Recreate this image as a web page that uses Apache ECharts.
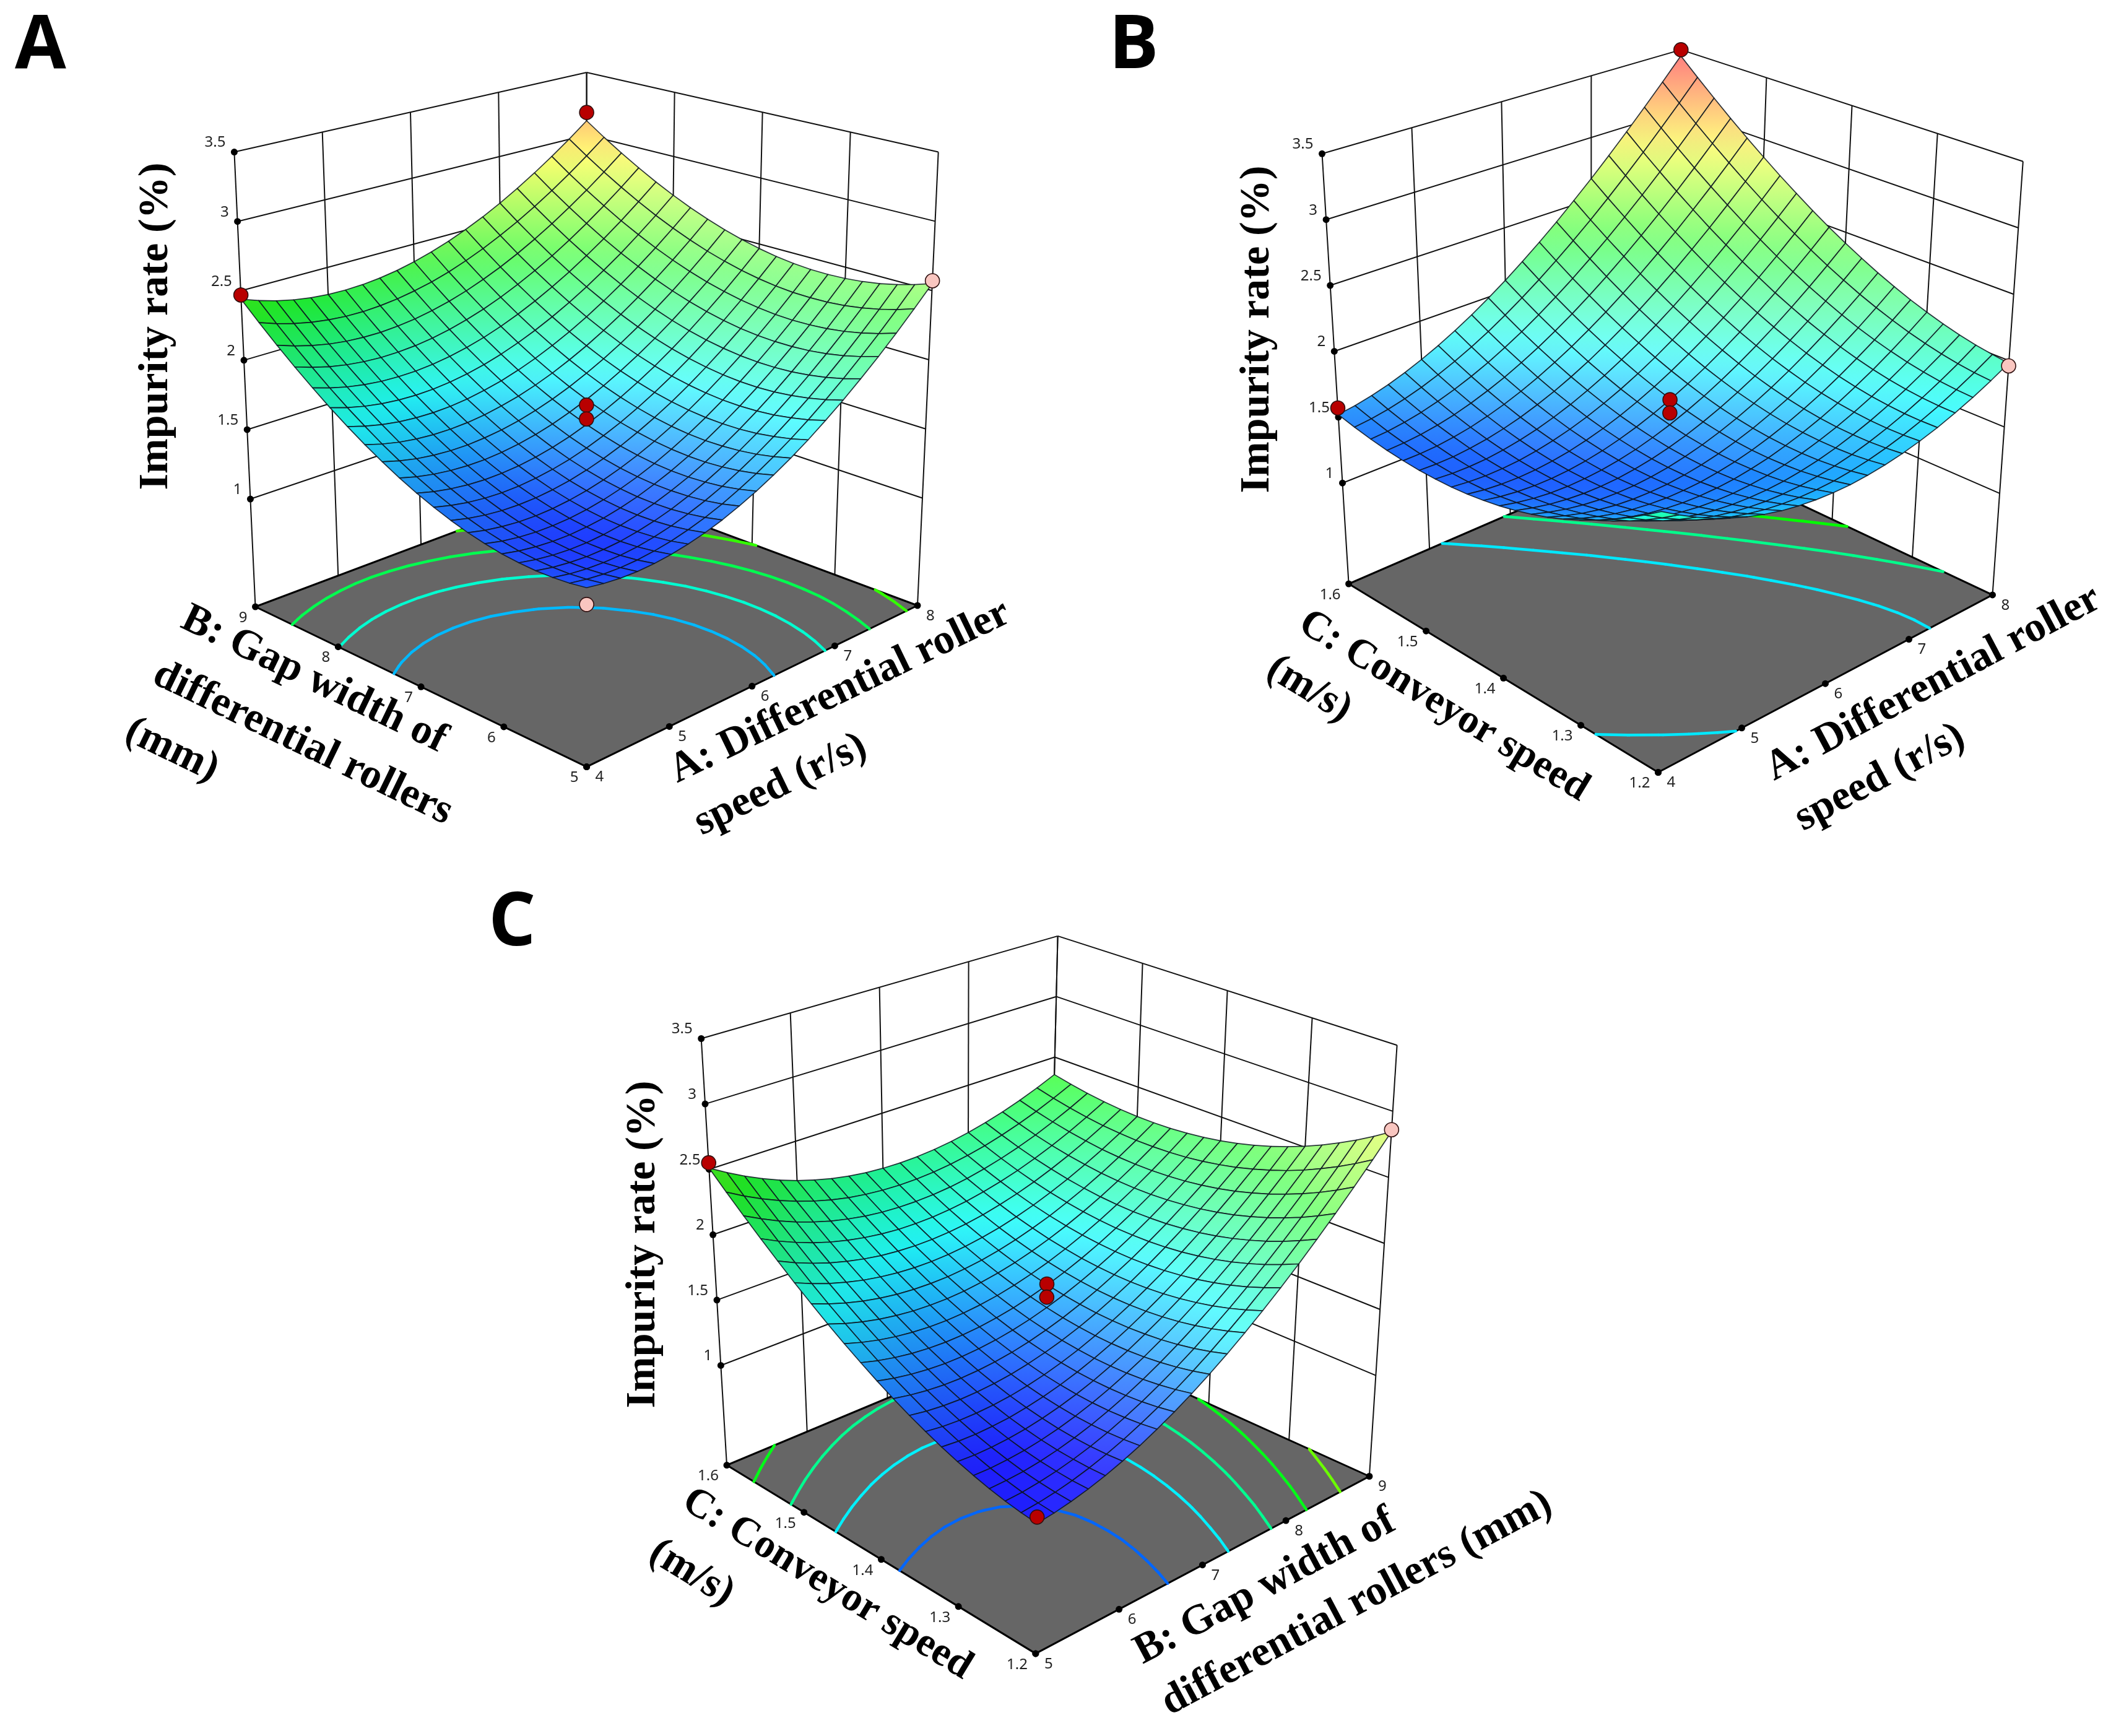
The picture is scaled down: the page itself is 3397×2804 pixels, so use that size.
<!DOCTYPE html>
<html><head><meta charset="utf-8"><style>html,body{margin:0;background:#fff}#c{width:3397px;height:2804px}</style>
<script src="https://cdn.jsdelivr.net/npm/echarts@6/dist/echarts.min.js"></script></head><body><div id="c"></div><script>
// Impurity rate (%) surfaces: one row per step of the left-hand axis, one column per step of the right-hand axis
const zA=[
[1.400,1.380,1.367,1.363,1.368,1.380,1.401,1.429,1.466,1.512,1.565,1.627,1.696,1.774,1.861,1.955,2.058,2.168,2.287,2.415,2.550],
[1.382,1.361,1.347,1.342,1.345,1.357,1.376,1.404,1.439,1.483,1.536,1.596,1.665,1.741,1.826,1.920,2.021,2.131,2.248,2.374,2.509],
[1.372,1.349,1.335,1.329,1.330,1.340,1.359,1.385,1.420,1.462,1.513,1.573,1.640,1.716,1.800,1.892,1.992,2.100,2.217,2.342,2.475],
[1.369,1.345,1.330,1.322,1.323,1.331,1.349,1.374,1.407,1.449,1.499,1.557,1.623,1.697,1.780,1.871,1.970,2.077,2.192,2.316,2.448],
[1.374,1.349,1.332,1.323,1.322,1.330,1.346,1.370,1.402,1.443,1.491,1.548,1.613,1.686,1.768,1.857,1.955,2.061,2.175,2.298,2.429],
[1.385,1.359,1.341,1.331,1.329,1.336,1.350,1.373,1.404,1.444,1.491,1.547,1.610,1.683,1.763,1.851,1.948,2.053,2.166,2.287,2.417],
[1.405,1.377,1.358,1.347,1.344,1.349,1.362,1.384,1.414,1.452,1.498,1.553,1.615,1.686,1.765,1.852,1.948,2.052,2.163,2.284,2.412],
[1.431,1.402,1.382,1.369,1.365,1.369,1.382,1.402,1.431,1.468,1.513,1.566,1.627,1.697,1.775,1.861,1.955,2.058,2.168,2.287,2.414],
[1.465,1.435,1.413,1.399,1.394,1.397,1.408,1.427,1.455,1.491,1.534,1.587,1.647,1.715,1.792,1.877,1.970,2.071,2.181,2.298,2.424],
[1.506,1.475,1.452,1.437,1.430,1.432,1.442,1.460,1.486,1.521,1.564,1.614,1.674,1.741,1.816,1.900,1.992,2.092,2.200,2.317,2.441],
[1.554,1.522,1.498,1.482,1.474,1.475,1.483,1.500,1.525,1.558,1.600,1.650,1.708,1.774,1.848,1.931,2.021,2.120,2.227,2.343,2.466],
[1.610,1.576,1.551,1.534,1.525,1.524,1.532,1.547,1.571,1.603,1.644,1.692,1.749,1.814,1.887,1.968,2.058,2.156,2.261,2.376,2.498],
[1.673,1.638,1.611,1.593,1.583,1.581,1.588,1.602,1.625,1.656,1.695,1.742,1.798,1.861,1.933,2.013,2.102,2.198,2.303,2.416,2.537],
[1.743,1.707,1.679,1.660,1.649,1.646,1.651,1.664,1.686,1.715,1.753,1.799,1.854,1.916,1.987,2.066,2.153,2.248,2.352,2.464,2.584],
[1.821,1.784,1.755,1.734,1.722,1.717,1.721,1.733,1.754,1.782,1.819,1.864,1.917,1.978,2.048,2.126,2.212,2.306,2.408,2.519,2.637],
[1.905,1.867,1.837,1.815,1.802,1.796,1.799,1.810,1.829,1.856,1.892,1.936,1.988,2.048,2.116,2.193,2.278,2.370,2.472,2.581,2.699],
[1.998,1.958,1.927,1.904,1.889,1.883,1.884,1.894,1.912,1.938,1.972,2.015,2.066,2.125,2.192,2.267,2.351,2.442,2.542,2.651,2.767],
[2.097,2.057,2.024,2.000,1.984,1.976,1.977,1.985,2.002,2.027,2.060,2.101,2.151,2.209,2.275,2.349,2.431,2.522,2.621,2.728,2.843],
[2.204,2.162,2.129,2.103,2.086,2.077,2.076,2.084,2.099,2.123,2.155,2.195,2.244,2.300,2.365,2.438,2.519,2.609,2.706,2.812,2.926],
[2.318,2.275,2.241,2.214,2.196,2.185,2.183,2.190,2.204,2.227,2.257,2.296,2.344,2.399,2.463,2.534,2.614,2.702,2.799,2.903,3.016],
[2.440,2.396,2.360,2.332,2.312,2.301,2.298,2.303,2.316,2.337,2.367,2.405,2.451,2.505,2.567,2.638,2.717,2.804,2.899,3.002,3.114]];
const zB=[
[2.050,1.971,1.899,1.835,1.780,1.733,1.693,1.661,1.638,1.623,1.615,1.615,1.624,1.641,1.665,1.698,1.738,1.787,1.843,1.908,1.980],
[1.967,1.892,1.826,1.767,1.716,1.674,1.640,1.613,1.595,1.584,1.582,1.587,1.601,1.622,1.652,1.689,1.735,1.788,1.850,1.919,1.997],
[1.889,1.820,1.758,1.704,1.659,1.622,1.592,1.571,1.557,1.552,1.554,1.565,1.583,1.609,1.644,1.687,1.737,1.796,1.862,1.936,2.019],
[1.818,1.753,1.697,1.648,1.607,1.575,1.550,1.534,1.526,1.525,1.532,1.548,1.571,1.603,1.643,1.690,1.746,1.809,1.881,1.960,2.047],
[1.752,1.693,1.641,1.597,1.562,1.535,1.515,1.504,1.500,1.505,1.517,1.538,1.566,1.603,1.647,1.700,1.760,1.829,1.905,1.990,2.082],
[1.693,1.638,1.591,1.553,1.522,1.500,1.486,1.479,1.481,1.490,1.508,1.533,1.567,1.608,1.657,1.715,1.781,1.854,1.936,2.025,2.123],
[1.639,1.589,1.548,1.514,1.489,1.472,1.462,1.461,1.467,1.482,1.504,1.534,1.573,1.619,1.674,1.736,1.807,1.886,1.972,2.067,2.169],
[1.591,1.547,1.510,1.482,1.461,1.449,1.445,1.448,1.460,1.479,1.506,1.542,1.585,1.637,1.696,1.764,1.840,1.923,2.014,2.114,2.222],
[1.550,1.511,1.479,1.456,1.440,1.433,1.433,1.442,1.458,1.483,1.515,1.556,1.604,1.661,1.725,1.798,1.878,1.967,2.063,2.167,2.280],
[1.514,1.480,1.453,1.435,1.424,1.422,1.427,1.441,1.462,1.492,1.529,1.575,1.628,1.690,1.759,1.837,1.923,2.016,2.118,2.227,2.345],
[1.485,1.456,1.434,1.420,1.415,1.418,1.428,1.447,1.473,1.508,1.550,1.601,1.659,1.726,1.800,1.883,1.973,2.072,2.178,2.292,2.415],
[1.462,1.437,1.421,1.412,1.411,1.419,1.435,1.458,1.490,1.529,1.577,1.632,1.696,1.767,1.847,1.934,2.030,2.133,2.245,2.364,2.491],
[1.444,1.424,1.413,1.409,1.414,1.427,1.447,1.476,1.512,1.556,1.609,1.669,1.738,1.815,1.899,1.992,2.092,2.201,2.317,2.442,2.574],
[1.432,1.418,1.411,1.413,1.422,1.440,1.466,1.499,1.540,1.590,1.647,1.713,1.786,1.868,1.958,2.055,2.161,2.274,2.396,2.525,2.663],
[1.427,1.417,1.416,1.422,1.437,1.460,1.490,1.529,1.575,1.630,1.692,1.763,1.841,1.928,2.022,2.125,2.235,2.354,2.480,2.614,2.757],
[1.427,1.423,1.426,1.438,1.457,1.485,1.520,1.564,1.615,1.675,1.742,1.818,1.901,1.993,2.093,2.200,2.316,2.439,2.571,2.710,2.858],
[1.434,1.435,1.443,1.460,1.484,1.517,1.557,1.606,1.662,1.727,1.799,1.880,1.968,2.065,2.169,2.282,2.402,2.531,2.667,2.812,2.964],
[1.446,1.452,1.465,1.487,1.516,1.554,1.600,1.653,1.715,1.784,1.862,1.947,2.041,2.142,2.252,2.369,2.494,2.628,2.769,2.919,3.076],
[1.465,1.475,1.494,1.520,1.555,1.598,1.648,1.706,1.773,1.847,1.930,2.021,2.119,2.226,2.340,2.463,2.593,2.732,2.878,3.033,3.195],
[1.490,1.505,1.528,1.560,1.599,1.647,1.703,1.766,1.837,1.917,2.005,2.100,2.204,2.315,2.434,2.562,2.698,2.841,2.993,3.152,3.319],
[1.520,1.540,1.569,1.605,1.650,1.703,1.763,1.832,1.908,1.993,2.085,2.186,2.294,2.410,2.535,2.667,2.808,2.957,3.113,3.277,3.450]];
const zC=[
[1.155,1.169,1.191,1.220,1.256,1.300,1.351,1.410,1.476,1.549,1.630,1.718,1.814,1.917,2.027,2.145,2.270,2.403,2.543,2.690,2.845],
[1.168,1.178,1.195,1.219,1.251,1.290,1.337,1.391,1.452,1.521,1.597,1.681,1.772,1.870,1.976,2.089,2.210,2.338,2.473,2.616,2.766],
[1.187,1.192,1.205,1.225,1.252,1.286,1.328,1.378,1.434,1.499,1.570,1.649,1.736,1.829,1.930,2.039,2.155,2.278,2.409,2.547,2.693],
[1.212,1.213,1.220,1.235,1.258,1.288,1.325,1.370,1.422,1.482,1.549,1.623,1.705,1.794,1.891,1.995,2.106,2.225,2.351,2.485,2.626],
[1.243,1.238,1.242,1.252,1.270,1.295,1.328,1.368,1.416,1.471,1.533,1.603,1.680,1.765,1.857,1.956,2.063,2.177,2.299,2.427,2.564],
[1.279,1.270,1.269,1.275,1.288,1.309,1.337,1.372,1.415,1.466,1.523,1.589,1.661,1.741,1.828,1.923,2.025,2.135,2.252,2.376,2.508],
[1.321,1.307,1.301,1.303,1.311,1.328,1.351,1.382,1.420,1.466,1.519,1.580,1.648,1.723,1.806,1.896,1.993,2.098,2.211,2.331,2.458],
[1.369,1.350,1.340,1.337,1.341,1.352,1.371,1.397,1.431,1.472,1.521,1.577,1.640,1.711,1.789,1.874,1.967,2.068,2.175,2.291,2.413],
[1.422,1.399,1.384,1.376,1.376,1.383,1.397,1.419,1.448,1.484,1.528,1.579,1.638,1.704,1.778,1.859,1.947,2.043,2.146,2.256,2.374],
[1.481,1.454,1.434,1.421,1.416,1.419,1.428,1.445,1.470,1.502,1.541,1.588,1.642,1.704,1.772,1.849,1.932,2.024,2.122,2.228,2.341],
[1.546,1.514,1.490,1.473,1.463,1.461,1.466,1.478,1.498,1.525,1.560,1.602,1.652,1.709,1.773,1.845,1.924,2.010,2.104,2.205,2.314],
[1.617,1.580,1.551,1.529,1.515,1.508,1.509,1.516,1.532,1.554,1.585,1.622,1.667,1.719,1.779,1.846,1.920,2.002,2.092,2.188,2.292],
[1.693,1.652,1.618,1.592,1.573,1.561,1.557,1.561,1.571,1.589,1.615,1.648,1.688,1.736,1.791,1.853,1.923,2.000,2.085,2.177,2.277],
[1.775,1.729,1.691,1.660,1.637,1.620,1.612,1.610,1.616,1.630,1.651,1.679,1.715,1.758,1.808,1.866,1.931,2.004,2.084,2.172,2.266],
[1.863,1.812,1.770,1.734,1.706,1.685,1.672,1.666,1.667,1.676,1.692,1.716,1.747,1.786,1.831,1.885,1.945,2.013,2.089,2.172,2.262],
[1.956,1.901,1.854,1.814,1.781,1.756,1.738,1.727,1.724,1.728,1.740,1.759,1.785,1.819,1.860,1.909,1.965,2.029,2.099,2.178,2.263],
[2.056,1.996,1.944,1.899,1.862,1.832,1.809,1.794,1.786,1.786,1.793,1.807,1.829,1.859,1.895,1.939,1.991,2.050,2.116,2.189,2.270],
[2.161,2.096,2.040,1.990,1.948,1.914,1.887,1.867,1.854,1.850,1.852,1.862,1.879,1.904,1.936,1.975,2.022,2.076,2.138,2.207,2.283],
[2.271,2.203,2.141,2.087,2.041,2.001,1.970,1.945,1.928,1.919,1.917,1.922,1.934,1.954,1.982,2.017,2.059,2.108,2.166,2.230,2.302],
[2.388,2.314,2.248,2.190,2.139,2.095,2.058,2.029,2.008,1.994,1.987,1.988,1.996,2.011,2.034,2.064,2.102,2.147,2.199,2.259,2.326],
[2.510,2.432,2.361,2.298,2.242,2.194,2.153,2.119,2.093,2.074,2.063,2.059,2.062,2.073,2.091,2.117,2.150,2.190,2.238,2.293,2.356]];
const ticksA=[4,5,6,7,8], ticksB=[5,6,7,8,9], ticksC=[1.2,1.3,1.4,1.5,1.6];
const zTicks=[1,1.5,2,2.5,3,3.5];
const levelsA=[1.65,1.9,2.18,2.46], levelsB=[1.75,2.05,2.35], levelsC=[1.47,1.77,2.04,2.3,2.58];
const pointsA=[[8,9,3.18,1],[4,9,2.47,1],[8,5,2.57,0],[4,5,1.29,0],[6,7,1.74,1],[6,7,1.64,1]];
const pointsB=[[8,1.6,3.5,1],[4,1.6,1.57,1],[8,1.2,1.96,0],[6,1.4,1.74,1],[6,1.4,1.64,1]];
const pointsC=[[5,1.6,2.55,1],[9,1.2,2.86,0],[5,1.2,1.2,1],[7,1.4,1.74,1],[7,1.4,1.64,1]];

const panels=[
 {letter:'A',letterPos:[24,16],table:zA,u:ticksA,v:ticksB,levels:levelsA,points:pointsA,zFloor:.224,
  F0:[947.6,1238.6],L0:[412.5,980],R0:[1482,978],B0:[947.6,779],F1:[947.6,432.6],L1:[378.4,245.6],R1:[1515.7,245.6],B1:[947.6,117],
  titles:[['Impurity rate (%)',252.6,527,90,68],['B: Gap width of',507,1098,-25.8,68],['differential rollers',489,1201,-25.8,68],['(mm)',277.6,1212,-25.8,68],['A: Differential roller',1357,1118,25.8,68],['speed (r/s)',1261,1268,25.8,68]]},
 {letter:'B',letterPos:[1791,16],table:zB,u:ticksA,v:ticksC,levels:levelsB,points:pointsB,zFloor:.235,
  F0:[2678.5,1247.5],L0:[2178.6,943],R0:[3218.5,960.9],B0:[2700.6,717],F1:[2688,489.4],L1:[2135.5,248.3],R1:[3267.8,260.8],B1:[2715.3,80.4],
  titles:[['Impurity rate (%)',2031.5,532,90,68],['C: Conveyor speed',2332,1141,-31.3,66],['(m/s)',2114.5,1113.6,-31.3,68],['A: Differential roller',3122.9,1104.6,28,68],['speed (r/s)',3036.7,1256.5,28,68]]},
 {letter:'C',letterPos:[789,1433],table:zC,u:ticksB,v:ticksC,levels:levelsC,points:pointsC,zFloor:.237,
  F0:[1672.9,2670.9],L0:[1174,2366.6],R0:[2211.9,2384.5],B0:[1693,2150],F1:[1680.7,1923.6],L1:[1132.7,1677.5],R1:[2256.6,1688.2],B1:[1708.6,1511.9],
  titles:[['Impurity rate (%)',1039,2010,90,68],['C: Conveyor speed',1336,2559,-31.4,66],['(m/s)',1117,2541,-31.4,68],['B: Gap width of',2043.4,2563,28,68],['differential rollers (mm)',2191.9,2590,28,68]]}
];
const Z_TOP=3.5;
function project(P,u,v,zv){const w=(zv-P.zFloor)/(Z_TOP-P.zFloor);
 const bl=(a,b,c,d)=>[0,1].map(k=>(1-u)*(1-v)*a[k]+u*(1-v)*b[k]+(1-u)*v*c[k]+u*v*d[k]);
 const f=bl(P.F0,P.R0,P.L0,P.B0),t=bl(P.F1,P.R1,P.L1,P.B1);
 return [f[0]+(t[0]-f[0])*w,f[1]+(t[1]-f[1])*w];}
const STOPS=[[1.25,[0,0,255]],[1.8,[0,255,255]],[2.35,[0,255,0]],[2.9,[255,255,0]],[3.45,[255,0,0]]];
function baseColor(z){if(z<=STOPS[0][0])return STOPS[0][1].slice();for(let i=1;i<STOPS.length;i++)if(z<=STOPS[i][0]){const a=STOPS[i-1],b=STOPS[i],t=(z-a[0])/(b[0]-a[0]);return a[1].map((c,k)=>c+(b[1][k]-c)*t);}return STOPS[4][1].slice();}
const css=c=>'rgb('+c.map(Math.round).join(',')+')';
function shade(T,i,j){
 const du=((T[j][i+1]-T[j][i])+(T[j+1][i+1]-T[j+1][i]))/2/.1, dv=((T[j+1][i]-T[j][i])+(T[j+1][i+1]-T[j][i+1]))/2/.1;
 const k=Math.max(-1,Math.min(1,(du-dv)/2)),m=Math.max(0,Math.min(.8,(du+dv)/2));
 const dark=1-.15*Math.max(0,-k),t=Math.max(.12,.08+.27*k+.45*m);
 const col=z=>css(baseColor(z).map(x=>x*dark).map(x=>x+(255-x)*t));
 return {type:'linear',x:0,y:0,x2:0,y2:1,colorStops:[{offset:0,color:col(T[j+1][i+1])},{offset:1,color:col(T[j][i])}]};}
function contourSegs(T,level){const segs=[];const n=T.length-1;
 for(let j=0;j<n;j++)for(let i=0;i<n;i++){const c=[[i,j],[i+1,j],[i+1,j+1],[i,j+1]],pts=[];
  for(let e=0;e<4;e++){const a=c[e],b=c[(e+1)%4],za=T[a[1]][a[0]],zb=T[b[1]][b[0]];
   if((za<level)!==(zb<level)){const t=(level-za)/(zb-za);pts.push([(a[0]+(b[0]-a[0])*t)/n,(a[1]+(b[1]-a[1])*t)/n]);}}
  if(pts.length===2)segs.push(pts);if(pts.length===4){segs.push([pts[0],pts[1]]);segs.push([pts[2],pts[3]]);}}
 return segs;}
const FONT_T='"Noto Sans"',FONT_S='"Liberation Serif"';
const series=[];
function layer(data,render,z){series.push({type:'custom',coordinateSystem:'cartesian2d',silent:true,progressive:0,animation:false,clip:false,z:z,data:data,encode:{x:[],y:[]},renderItem:render});}
panels.forEach((P,pi)=>{
 const norm=(arr,val)=>(val-arr[0])/(arr[arr.length-1]-arr[0]);
 const wall=[];
 for(let a=0;a<=4;a++){wall.push([[a/4,1,P.zFloor],[a/4,1,Z_TOP]]);wall.push([[1,a/4,P.zFloor],[1,a/4,Z_TOP]]);}
 zTicks.forEach(z=>{wall.push([[0,1,z],[1,1,z]]);wall.push([[1,0,z],[1,1,z]]);});
 const seg=(a,b,api,style)=>{const A=api.coord(project(P,...a)),B=api.coord(project(P,...b));return{type:'line',shape:{x1:A[0],y1:A[1],x2:B[0],y2:B[1]},style};};
 layer(wall,(p,api)=>seg(wall[p.dataIndex][0],wall[p.dataIndex][1],api,{stroke:'#111',lineWidth:2}),1);
 layer([0],(p,api)=>({type:'polygon',shape:{points:[[0,0],[1,0],[1,1],[0,1]].map(c=>api.coord(project(P,c[0],c[1],P.zFloor)))},style:{fill:'#666666',stroke:'#000',lineWidth:3}}),2);
 const cs=[];P.levels.forEach(l=>contourSegs(P.table,l).forEach(s=>cs.push([s,l])));
 layer(cs,(p,api)=>{const it=cs[p.dataIndex],A=api.coord(project(P,it[0][0][0],it[0][0][1],P.zFloor)),B=api.coord(project(P,it[0][1][0],it[0][1][1],P.zFloor));
  return{type:'line',shape:{x1:A[0],y1:A[1],x2:B[0],y2:B[1]},style:{stroke:css(baseColor(it[1])),lineWidth:4.5,lineCap:'round'}};},3);
 const dots=[];P.u.forEach(t=>dots.push([norm(P.u,t),0,P.zFloor]));P.v.forEach(t=>dots.push([0,norm(P.v,t),P.zFloor]));zTicks.forEach(t=>dots.push([0,1,t]));
 layer(dots,(p,api)=>{const c=api.coord(project(P,...dots[p.dataIndex]));return{type:'circle',shape:{cx:c[0],cy:c[1],r:5.5},style:{fill:'#000'}};},4);
 const labels=[];
 P.u.forEach(t=>labels.push([String(t),norm(P.u,t),0,P.zFloor,14,17,'left']));
 P.v.forEach(t=>labels.push([String(t),0,norm(P.v,t),P.zFloor,-13,18,'right']));
 zTicks.forEach(t=>labels.push([String(t),0,1,t,-14,-15,'right']));
 layer(labels,(p,api)=>{const l=labels[p.dataIndex],c=api.coord(project(P,l[1],l[2],l[3]));return{type:'text',x:c[0]+l[4],y:c[1]+l[5],style:{text:l[0],x:0,y:0,fontFamily:FONT_T,fontSize:24,fill:'#222',align:l[6],verticalAlign:'middle'}};},4);
 const cells=[];for(let j=0;j<20;j++)for(let i=0;i<20;i++)cells.push([i,j]);cells.sort((a,b)=>(b[0]+b[1])-(a[0]+a[1]));
 layer(cells,(p,api)=>{const [i,j]=cells[p.dataIndex],T=P.table;
  const pts=[[i,j],[i+1,j],[i+1,j+1],[i,j+1]].map(c=>api.coord(project(P,c[0]/20,c[1]/20,T[c[1]][c[0]])));
  return{type:'polygon',shape:{points:pts},style:{fill:shade(T,i,j),stroke:'rgba(10,20,30,.85)',lineWidth:1.7,lineJoin:'round'}};},5);
 const pts=P.points.map(a=>[norm(P.u,a[0]),norm(P.v,a[1]),a[2],a[3]]);
 layer(pts,(p,api)=>{const a=pts[p.dataIndex],c=api.coord(project(P,a[0],a[1],a[2]));return{type:'circle',shape:{cx:c[0],cy:c[1],r:11.5},style:{fill:a[3]?'#b80000':'#f9c6c0',stroke:'#301010',lineWidth:1.6}};},6);
 layer([0],(p,api)=>{const c=api.coord(P.letterPos);return{type:'text',x:c[0],y:c[1],style:{text:P.letter,x:0,y:0,fontFamily:'"Open Sans"',fontWeight:'bold',fontSize:120,fill:'#000',align:'left',verticalAlign:'top'}};},7);
 layer(P.titles,(p,api)=>{const t=P.titles[p.dataIndex],c=api.coord([t[1],t[2]]);return{type:'text',x:c[0],y:c[1],rotation:t[3]*Math.PI/180,style:{text:t[0],x:0,y:0,fontFamily:FONT_S,fontWeight:'bold',fontSize:t[4],fill:'#000',align:'center',verticalAlign:'middle'}};},7);
});
const chart=echarts.init(document.getElementById('c'),null,{renderer:'canvas',width:3397,height:2804});
chart.setOption({animation:false,backgroundColor:'#fff',
 grid:{left:0,right:0,top:0,bottom:0},
 xAxis:{type:'value',min:0,max:3397,show:false},
 yAxis:{type:'value',min:0,max:2804,inverse:true,show:false},
 series});
</script></body></html>
